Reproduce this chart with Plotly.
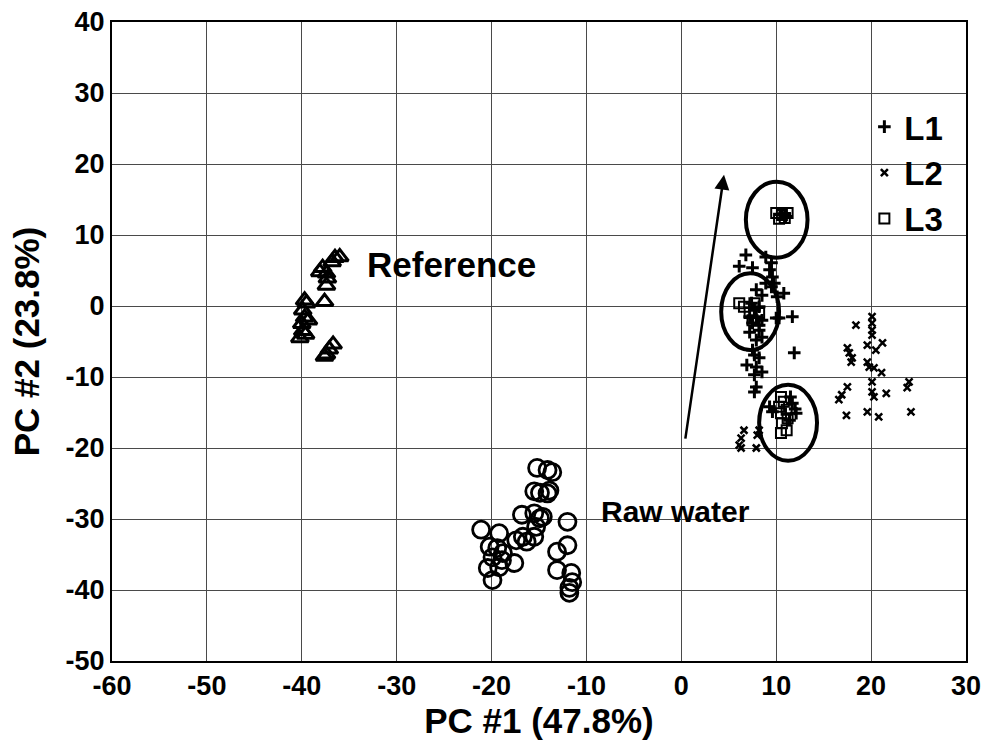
import plotly.graph_objects as go

# ---- data ----
ref_x = [-36.0, -36.5, -36.8, -37.8, -38.1, -37.4, -37.3, -37.4, -39.7, -39.5, -37.6,
         -39.9, -39.7, -40.0, -39.9, -40.2, -36.7, -37.1, -37.4, -37.6, -39.3, -39.6]
ref_y = [6.9, 6.8, 6.2, 5.4, 4.8, 4.6, 3.9, 2.9, 0.8, 0.4, 0.6,
         -0.6, -1.6, -2.5, -3.5, -4.5, -5.4, -6.1, -6.8, -7.1, -2.0, -4.0]

raw_x = [-15.2, -14.1, -13.6, -15.5, -14.9, -14.1, -13.9, -16.8, -15.5, -14.9, -14.6,
         -15.3, -12.0, -21.1, -19.2, -17.4, -16.7, -16.3, -15.5, -20.2, -19.4, -18.8,
         -19.9, -18.9, -17.6, -20.4, -19.2, -19.9, -13.1, -12.0, -13.1, -11.6, -11.5,
         -11.8, -11.8]
raw_y = [-22.8, -23.1, -23.4, -26.1, -26.3, -26.4, -26.0, -29.4, -29.2, -29.9, -29.7,
         -31.1, -30.4, -31.5, -32.0, -33.0, -32.5, -33.2, -32.5, -33.9, -34.1, -34.8,
         -35.4, -35.8, -36.2, -36.9, -36.8, -38.6, -34.6, -33.7, -37.2, -37.6, -38.9,
         -39.7, -40.4]

l1_x = [6.8, 6.1, 7.5, 8.9, 9.5, 9.3, 9.6, 9.8, 9.5, 8.9, 10.8, 10.1, 7.9, 8.5,
        7.4, 7.7, 8.2, 7.2, 7.9, 8.5, 7.5, 8.2, 10.0, 10.3, 11.7, 7.2, 8.2, 8.5,
        7.9, 7.5, 7.7, 8.2, 6.9, 7.9, 8.5, 7.7, 7.9, 7.7, 11.9,
        9.3, 9.6, 11.7, 12.1, 11.4, 12.0, 11.5, 10.4, 10.9, 11.0]
l1_y = [7.2, 5.6, 5.4, 6.9, 6.1, 5.1, 4.1, 3.2, 2.7, 3.2, 1.8, 1.3, 2.3, 1.5,
        0.4, -0.6, -0.1, -1.5, -1.5, -2.0, -2.4, -2.7, -1.7, -1.7, -1.5, -3.7, -3.4, -4.4,
        -4.8, -6.2, -6.9, -7.3, -8.3, -8.6, -9.3, -9.7, -11.4, -12.1, -6.6,
        -14.2, -14.9, -13.7, -15.1, -16.1, -14.5, -12.8, 12.9, 13.0, 12.6]

l2_x = [18.4, 20.1, 20.1, 20.1, 20.1, 19.6, 21.2, 20.5, 17.5, 17.7, 18.0, 17.9, 19.6,
        19.8, 20.3, 21.1, 20.1, 24.0, 23.8, 17.5, 16.9, 16.6, 20.1, 20.3, 21.6, 17.4,
        19.6, 20.8, 24.2, 6.6, 6.3, 6.1, 6.3, 7.9, 8.2, 8.0]
l2_y = [-2.7, -1.5, -2.4, -3.4, -4.1, -5.5, -5.2, -6.2, -5.9, -6.6, -7.3, -7.9, -7.9,
        -8.6, -8.7, -9.4, -10.7, -10.7, -11.5, -11.4, -12.5, -13.2, -12.1, -12.8, -12.3, -15.4,
        -14.9, -15.6, -14.9, -17.5, -18.6, -19.6, -20.0, -20.0, -17.5, -18.2]

l3_x = [10.0, 10.6, 11.2, 10.3, 10.9, 6.1, 6.6, 7.7, 7.2, 7.5, 8.2,
        10.5, 10.8, 10.3, 11.1, 10.5, 11.2, 10.6, 10.5, 11.1]
l3_y = [13.1, 12.8, 13.1, 12.3, 12.4, 0.4, -0.1, 0.4, -1.0, -2.0, -1.0,
        -12.8, -13.5, -14.2, -14.6, -15.1, -15.8, -16.5, -17.9, -17.5]

# ellipses: (x0, x1, y0, y1)
ellipses = [(6.8, 13.3, 6.8, 17.5), (4.2, 10.3, -6.2, 4.6), (8.2, 14.3, -21.8, -11.1)]
# arrow: tail -> head
arrow_tail = (0.4, -18.9)
arrow_head = (4.5, 18.5)

x_ticks = list(range(-60, 31, 10))
y_ticks = list(range(-50, 41, 10))

FONT = "Liberation Sans, Arial, sans-serif"

fig = go.Figure()
fig.add_trace(go.Scatter(x=ref_x, y=ref_y, mode="markers", showlegend=False,
                         marker=dict(symbol="triangle-up-open", size=15, color="black",
                                     line=dict(width=3, color="black"))))
fig.add_trace(go.Scatter(x=raw_x, y=raw_y, mode="markers", showlegend=False,
                         marker=dict(symbol="circle-open", size=17, color="black",
                                     line=dict(width=2.8, color="black"))))
fig.add_trace(go.Scatter(x=l1_x, y=l1_y, mode="markers", name="<b>L1</b>",
                         marker=dict(symbol="cross-thin", size=9, color="black",
                                     line=dict(width=3, color="black"))))
fig.add_trace(go.Scatter(x=l2_x, y=l2_y, mode="markers", name="<b>L2</b>",
                         marker=dict(symbol="x-thin", size=7, color="black",
                                     line=dict(width=2.5, color="black"))))
fig.add_trace(go.Scatter(x=l3_x, y=l3_y, mode="markers", name="<b>L3</b>",
                         marker=dict(symbol="square-open", size=10, color="black",
                                     line=dict(width=2, color="black"))))

for (x0, x1, y0, y1) in ellipses:
    fig.add_shape(type="circle", xref="x", yref="y", x0=x0, x1=x1, y0=y0, y1=y1,
                  line=dict(color="black", width=4))

fig.add_annotation(x=arrow_head[0], y=arrow_head[1], ax=arrow_tail[0], ay=arrow_tail[1],
                   xref="x", yref="y", axref="x", ayref="y", text="", showarrow=True,
                   arrowhead=2, arrowsize=1.2, arrowwidth=2.5, arrowcolor="black")

fig.add_annotation(x=-24.2, y=5.8, text="<b>Reference</b>", showarrow=False,
                   font=dict(family=FONT, size=35, color="black"))
fig.add_annotation(x=-0.6, y=-28.9, text="<b>Raw water</b>", showarrow=False,
                   font=dict(family=FONT, size=30, color="black"))

axis_common = dict(showgrid=True, gridcolor="#4a4a4a", gridwidth=1,
                   showline=True, linecolor="black", linewidth=2, mirror=True,
                   zeroline=False, ticks="", automargin=False,
                   ticklabeloverflow="allow",
                   tickfont=dict(family=FONT, size=27, color="black"))

fig.update_xaxes(range=[-60, 30], tickvals=x_ticks,
                 ticktext=[f"<b>{v}</b>" for v in x_ticks],
                 title=dict(text="<b>PC #1 (47.8%)</b>", standoff=4,
                            font=dict(family=FONT, size=35, color="black")),
                 **axis_common)
fig.update_yaxes(range=[-50, 40], tickvals=y_ticks,
                 ticktext=[f"<b>{v}</b>" for v in y_ticks],
                 title=dict(text="<b>PC #2 (23.8%)</b>", standoff=15,
                            font=dict(family=FONT, size=35, color="black")),
                 **axis_common)

fig.update_layout(
    width=982, height=741,
    margin=dict(l=112, r=16, t=22, b=80),
    plot_bgcolor="white", paper_bgcolor="white",
    font=dict(family=FONT, color="black"),
    legend=dict(x=0.881, y=0.88, xanchor="left", yanchor="top",
                bgcolor="rgba(0,0,0,0)", borderwidth=0,
                font=dict(family=FONT, size=33, color="black"),
                itemwidth=30, tracegroupgap=0),
)

fig.write_html("out.html")
